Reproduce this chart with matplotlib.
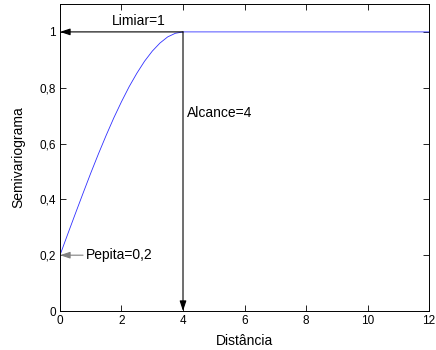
import matplotlib
matplotlib.use("Agg")
import matplotlib.pyplot as plt
from matplotlib.ticker import FuncFormatter

# semivariogram curve
dist = [0, 0, 0.25, 0.5, 0.75, 1.0, 1.25, 1.5, 1.75, 2.0, 2.25, 2.5, 2.75,
        3.0, 3.25, 3.5, 3.75, 4.0, 12.0]
gamma = [0, 0.2, 0.275, 0.349, 0.422, 0.494, 0.563, 0.629, 0.692, 0.75,
         0.804, 0.852, 0.895, 0.931, 0.960, 0.982, 0.995, 1.0, 1.0]

nugget = 0.2
sill = 1.0
rng = 4

xticks = [0, 2, 4, 6, 8, 10, 12]
yticks = [0, 0.2, 0.4, 0.6, 0.8, 1.0]

plt.rcParams['font.family'] = ['Liberation Sans', 'DejaVu Sans']
plt.rcParams['font.size'] = 10

fig = plt.figure(figsize=(4.36, 3.5), dpi=100)
ax = fig.add_axes([0.1376, 0.1114, 0.8464, 0.8772])

ax.plot(dist, gamma, color='#3030ff', lw=0.6)

ax.set_xlim(0, 12)
ax.set_ylim(0, 1.1)
ax.set_xticks(xticks)
ax.set_yticks(yticks)
fmt = FuncFormatter(lambda v, p: ('%g' % v).replace('.', ','))
ax.yaxis.set_major_formatter(fmt)
ax.tick_params(direction='in', top=True, right=True, length=4, width=0.6,
               pad=3, labelsize=8.5)
for s in ax.spines.values():
    s.set_linewidth(0.7)

ax.set_xlabel('Distância')
ax.set_ylabel('Semivariograma')
ax.xaxis.set_label_coords(0.5, -0.075)
ax.yaxis.set_label_coords(-0.095, 0.5)

head = dict(arrowstyle='-|>,head_length=0.6,head_width=0.2', color='black', lw=0.8,
            shrinkA=0, shrinkB=0)
ax.annotate('', xy=(0, sill), xytext=(rng, sill), arrowprops=head)
ax.text(1.68, sill + 0.015, 'Limiar=1', ha='left', va='bottom')
ax.annotate('', xy=(rng, 0), xytext=(rng, sill), arrowprops=head)
ax.text(4.14, 0.71, 'Alcance=4', ha='left', va='center')
ax.annotate('', xy=(0, nugget), xytext=(0.75, nugget),
            arrowprops=dict(arrowstyle='-|>,head_length=0.6,head_width=0.2',
                            color='gray', lw=0.8, shrinkA=0, shrinkB=0))
ax.text(0.84, nugget, 'Pepita=0,2', ha='left', va='center')

fig.savefig('out.png', dpi=100)
